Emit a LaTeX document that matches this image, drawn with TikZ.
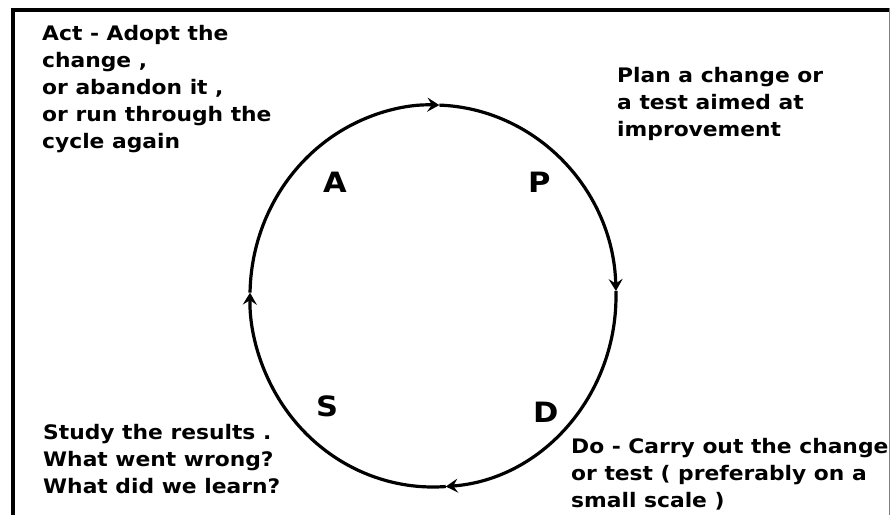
\documentclass[tikz,border=0pt]{standalone}
\usepackage{fontspec}
\setmainfont{DejaVu Sans}[FakeStretch=1.09]
\usetikzlibrary{arrows.meta,calc}
\begin{document}
\begin{tikzpicture}[x=1pt,y=1pt,
  txt/.style={anchor=base west, inner sep=0pt, font=\bfseries\fontsize{20}{27}\selectfont},
  letter/.style={anchor=base west, inner sep=0pt, font=\bfseries\fontsize{28}{30}\selectfont},
  cyc/.style={line width=3.2pt, -{Stealth[length=12pt,width=14pt,inset=4.5pt]}}
]
\useasboundingbox (0,0) rectangle (891,515);
\fill[white] (0,0) rectangle (891,515);
% frame
\draw[line width=4pt] (13,0) -- (13,506.75);
\draw[line width=3.5pt] (11,505) -- (889,505);
\draw[gray, line width=1.5pt] (889.5,506.75) -- (889.5,0);
% cycle
\coordinate (c) at (433,219);
\draw[cyc] ($(c)+(179:183 and 191)$) arc[start angle=179, end angle=88, x radius=183, y radius=191];
\draw[cyc] ($(c)+(88:183 and 191)$) arc[start angle=88, end angle=1.5, x radius=183, y radius=191];
\draw[cyc] ($(c)+(1.5:183 and 191)$) arc[start angle=1.5, end angle=-86, x radius=183, y radius=191];
\draw[cyc] ($(c)+(-86:183 and 191)$) arc[start angle=-86, end angle=-181, x radius=183, y radius=191];
% letters
\node[letter] (A) at (323,323) {A};
\node[letter] (P) at (528,323) {P};
\node[letter] (S) at (316,99) {S};
\node[letter] (D) at (533,93) {D};
% texts
\node[txt] (act) at (42,474) {\begin{tabular}[t]{@{}l@{}}Act - Adopt the\\change ,\\or abandon it ,\\or run through the\\cycle again\end{tabular}};
\node[txt] (plan) at (617,432) {\begin{tabular}[t]{@{}l@{}}Plan a change or\\a test aimed at\\improvement\end{tabular}};
\node[txt] (study) at (43,76) {\begin{tabular}[t]{@{}l@{}}Study the results .\\What went wrong?\\What did we learn?\end{tabular}};
\node[txt] (do) at (571,62) {\begin{tabular}[t]{@{}l@{}}Do - Carry out the change\\or test ( preferably on a\\small scale )\end{tabular}};
\end{tikzpicture}
\end{document}
